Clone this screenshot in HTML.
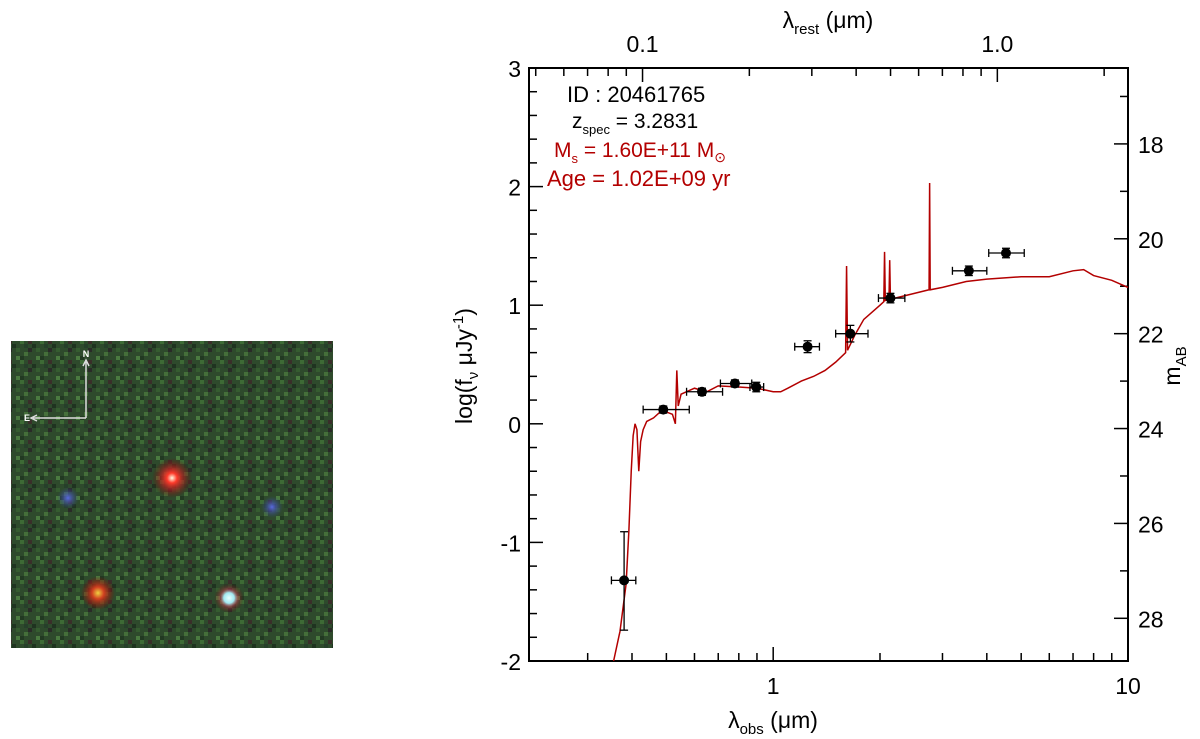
<!DOCTYPE html>
<html><head><meta charset="utf-8">
<style>
html,body{margin:0;padding:0;background:#fff;width:1200px;height:739px;overflow:hidden}
svg{position:absolute;left:0;top:0;font-family:"Liberation Sans",Arial,sans-serif}
</style></head>
<body>
<svg id="chart" width="1200" height="739" viewBox="0 0 1200 739">
<defs>
<radialGradient id="gRed"><stop offset="0" stop-color="#fffbe0"/><stop offset="0.25" stop-color="#ff3a2a"/><stop offset="0.6" stop-color="#b02020" stop-opacity="0.6"/><stop offset="1" stop-color="#600" stop-opacity="0"/></radialGradient>
<radialGradient id="gOr"><stop offset="0" stop-color="#f0d040"/><stop offset="0.35" stop-color="#d04020"/><stop offset="1" stop-color="#800" stop-opacity="0"/></radialGradient>
<radialGradient id="gCy"><stop offset="0" stop-color="#e8ffff"/><stop offset="0.35" stop-color="#a0e8f0"/><stop offset="0.6" stop-color="#c04050" stop-opacity="0.5"/><stop offset="1" stop-color="#600" stop-opacity="0"/></radialGradient>
<radialGradient id="gBl"><stop offset="0" stop-color="#5a6adf"/><stop offset="1" stop-color="#304080" stop-opacity="0"/></radialGradient>
<pattern id="noise" width="20" height="20" patternUnits="userSpaceOnUse">
<rect width="20" height="20" fill="#2e4a2c"/>
<rect x="0" y="0" width="4" height="4" fill="#3d6a35"/><rect x="12" y="4" width="4" height="4" fill="#1f3320"/>
<rect x="4" y="12" width="4" height="4" fill="#456f3a"/><rect x="8" y="0" width="4" height="4" fill="#3a2e2a"/>
<rect x="0" y="16" width="4" height="4" fill="#223a22"/><rect x="16" y="8" width="4" height="4" fill="#355c30"/>
<rect x="8" y="8" width="4" height="4" fill="#2a2a28"/><rect x="16" y="16" width="4" height="4" fill="#4a7a40"/>
<rect x="4" y="4" width="4" height="4" fill="#26402a"/>
</pattern>
</defs>
<g>
<rect x="11" y="341" width="322" height="307" fill="url(#noise)"/>
<circle cx="172" cy="478" r="20" fill="url(#gRed)"/>
<circle cx="98" cy="593" r="17" fill="url(#gOr)"/>
<circle cx="229" cy="598" r="15" fill="url(#gCy)"/>
<circle cx="68" cy="498" r="11" fill="url(#gBl)"/>
<circle cx="272" cy="507" r="11" fill="url(#gBl)"/>
<g stroke="#ddd" stroke-width="1.5" fill="none">
<path d="M86 418 V362 M86 418 H33"/><path d="M83 366 L86 360 L89 366 M37 415 L31 418 L37 421"/>
</g>
<text x="86" y="357" font-size="9" fill="#fff" text-anchor="middle" font-weight="bold">N</text>
<text x="27" y="421" font-size="9" fill="#fff" text-anchor="middle" font-weight="bold">E</text>
</g>
<g id="plot"></g>
</svg>
<script>
const photLam=[0.38,0.49,0.63,0.78,0.896,1.25,1.65,2.14,3.56,4.53];
const photF=[-1.32,0.12,0.27,0.34,0.31,0.65,0.76,1.06,1.29,1.44];
const photErrLo=[0.42,0.03,0.03,0.03,0.04,0.05,0.07,0.04,0.04,0.04];
const photErrHi=[0.41,0.03,0.03,0.03,0.04,0.05,0.07,0.04,0.04,0.04];
const photLamLo=[0.35,0.43,0.57,0.71,0.86,1.15,1.5,1.98,3.2,4.05];
const photLamHi=[0.41,0.58,0.72,0.87,0.94,1.35,1.85,2.35,4.0,5.1];
const modelLam=[0.355,0.37,0.385,0.392,0.398,0.403,0.408,0.413,0.418,0.423,0.43,0.44,0.46,0.48,0.50,0.52,0.53,0.535,0.54,0.55,0.6,0.65,0.7,0.8,0.9,1.0,1.05,1.1,1.2,1.3,1.4,1.5,1.6,1.61,1.62,1.7,1.8,2.0,2.05,2.06,2.07,2.12,2.13,2.14,2.5,2.75,2.76,2.77,3.0,3.5,4.0,5,6,7,7.5,8,9,10];
const modelF=[-2.05,-1.75,-1.35,-0.9,-0.4,-0.1,0.0,-0.05,-0.4,-0.15,-0.05,0.02,0.05,0.1,0.1,0.08,0.0,0.45,0.15,0.25,0.3,0.27,0.32,0.31,0.3,0.27,0.27,0.3,0.36,0.4,0.45,0.52,0.6,1.33,0.62,0.75,0.88,1.0,1.03,1.45,1.04,1.05,1.38,1.05,1.1,1.13,2.03,1.13,1.15,1.2,1.22,1.24,1.24,1.29,1.3,1.25,1.21,1.15];
const yTicks=[-2,-1,0,1,2,3];
const xTickLabels=[1,10];
const mTicks=[18,20,22,24,26,28];
const restTicks=[0.1,1.0];
const zspec=3.2831;

const L=529,R=1128,T=68,B=661;
const xmin=0.205,xmax=10,ymin=-2,ymax=3;
const X=l=>L+(Math.log10(l)-Math.log10(xmin))/(Math.log10(xmax)-Math.log10(xmin))*(R-L);
const Y=v=>B-(v-ymin)/(ymax-ymin)*(B-T);
const g=document.getElementById('plot');
const NS='http://www.w3.org/2000/svg';
function mk(tag,a,parent){const e=document.createElementNS(NS,tag);for(const k in a)e.setAttribute(k,a[k]);(parent||g).appendChild(e);return e;}
const fr=mk('rect',{x:L,y:T,width:R-L,height:B-T,fill:'none',stroke:'#000','stroke-width':2});


for(let d=-1;d<=1;d++)for(let k=1;k<10;k++){const l=k*Math.pow(10,d);if(l<xmin||l>xmax)continue;const x=X(l);const len=k==1?14:8;
 mk('line',{x1:x,x2:x,y1:B,y2:B-len,stroke:'#000','stroke-width':1.5});}
for(let d=-2;d<=0;d++)for(let k=1;k<10;k++){const lr=k*Math.pow(10,d);const l=lr*(1+zspec);if(l<xmin||l>xmax)continue;const x=X(l);const len=k==1?14:8;
 mk('line',{x1:x,x2:x,y1:T,y2:T+len,stroke:'#000','stroke-width':1.5});}
xTickLabels.forEach(v=>{const t=mk('text',{x:X(v),y:B+33,'font-size':23,'text-anchor':'middle'});t.textContent=String(v);
 
 });
restTicks.forEach(v=>{const t=mk('text',{x:X(v*(1+zspec)),y:52,'font-size':23,'text-anchor':'middle'});t.textContent=v.toFixed(1);
 
 });
for(let v=-2;v<=3;v+=0.2){const y=Y(v);const major=Math.abs(v-Math.round(v))<1e-6;mk('line',{x1:L,x2:L+(major?14:8),y1:y,y2:y,stroke:'#000','stroke-width':1.5});}
yTicks.forEach(v=>{const t=mk('text',{x:L-8,y:Y(v)+9,'font-size':23,'text-anchor':'end'});t.textContent=String(v);
 
 });
const mY=m=>Y((23.9-m)/2.5);
for(let m=17;m<=29.01;m+=1){const y=mY(m);if(y<T||y>B)continue;const major=m%2==0;mk('line',{x1:R,x2:R-(major?14:8),y1:y,y2:y,stroke:'#000','stroke-width':1.5});}
mTicks.forEach(m=>{const t=mk('text',{x:R+10,y:mY(m)+9,'font-size':23});t.textContent=String(m);
 
 });
const pts=modelLam.map((l,i)=>[X(l),Math.max(Math.min(Y(modelF[i]),B),T)]);
const mp=mk('polyline',{points:pts.map(p=>p.join(',')).join(' '),fill:'none',stroke:'#b30000','stroke-width':1.5});


photLam.forEach((l,i)=>{const x=X(l),y=Y(photF[i]);const y1=Y(photF[i]+photErrHi[i]),y2=Y(photF[i]-photErrLo[i]);
 const x1=X(photLamLo[i]),x2=X(photLamHi[i]);
 const gp=mk('g',{});
 
 
 mk('line',{x1:x1,x2:x2,y1:y,y2:y,stroke:'#000','stroke-width':1.3},gp);
 mk('line',{x1:x1,x2:x1,y1:y-4,y2:y+4,stroke:'#000','stroke-width':1.3},gp);
 mk('line',{x1:x2,x2:x2,y1:y-4,y2:y+4,stroke:'#000','stroke-width':1.3},gp);
 mk('line',{x1:x,x2:x,y1:y1,y2:y2,stroke:'#000','stroke-width':1.3},gp);
 mk('line',{x1:x-4,x2:x+4,y1:y1,y2:y1,stroke:'#000','stroke-width':1.3},gp);
 mk('line',{x1:x-4,x2:x+4,y1:y2,y2:y2,stroke:'#000','stroke-width':1.3},gp);
 mk('circle',{cx:x,cy:y,r:5,fill:'#000'},gp);
});
</script>
<svg width="1200" height="739" style="pointer-events:none">
<text x="773" y="728" font-size="23" text-anchor="middle">λ<tspan font-size="15" dy="6">obs</tspan><tspan dy="-6"> (μm)</tspan></text>
<text x="828" y="28" font-size="23" text-anchor="middle">λ<tspan font-size="15" dy="6">rest</tspan><tspan dy="-6"> (μm)</tspan></text>
<text transform="translate(472,366) rotate(-90)" font-size="23" text-anchor="middle">log(f<tspan font-size="15" dy="6">ν</tspan><tspan dy="-6">  μJy</tspan><tspan font-size="15" dy="-9">-1</tspan><tspan dy="9">)</tspan></text>
<text transform="translate(1180,366) rotate(-90)" font-size="23" text-anchor="middle">m<tspan font-size="15" dy="6">AB</tspan></text>
<text x="567" y="102" font-size="22">ID : 20461765</text>
<text x="572" y="128" font-size="21">z<tspan font-size="13" dy="6">spec</tspan><tspan dy="-6"> =  3.2831</tspan></text>
<text x="554" y="157" font-size="21" fill="#b30000">M<tspan font-size="13" dy="6">s</tspan><tspan dy="-6"> = 1.60E+11 M</tspan><tspan font-size="14" dy="5">⊙</tspan></text>
<text x="547" y="186" font-size="22" fill="#b30000">Age = 1.02E+09 yr</text>
</svg>
</body></html>
